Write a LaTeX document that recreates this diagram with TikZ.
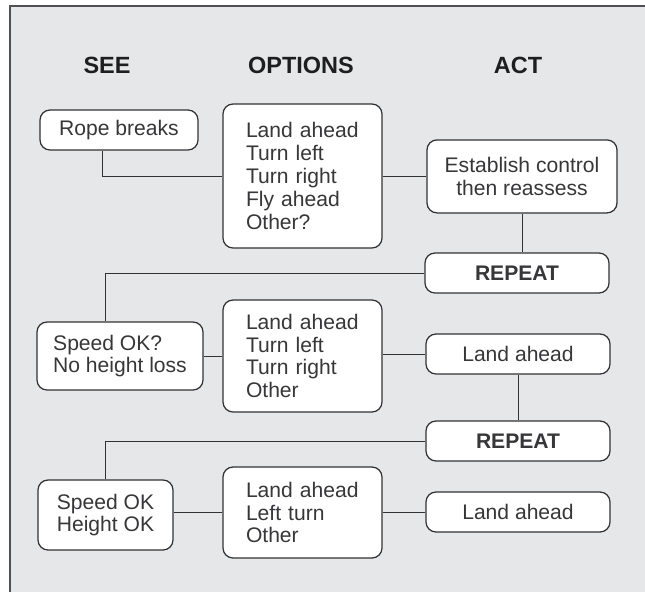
\documentclass[tikz,border=0pt]{standalone}
\usepackage{fontspec}
\setmainfont{Liberation Sans}
\usepackage{xcolor}
\usepackage{tikz}
\usetikzlibrary{positioning}
\definecolor{panelgray}{RGB}{230,231,233}
\definecolor{frameline}{RGB}{80,80,82}
\definecolor{boxline}{RGB}{50,50,52}
\definecolor{bodytext}{RGB}{55,55,57}
\definecolor{headtext}{RGB}{30,30,32}
\newcommand{\bodyfont}{\fontsize{15}{16.2}\selectfont}
\newcommand{\headfont}{\fontsize{16.7}{18}\selectfont\bfseries}

\begin{document}
\begin{tikzpicture}[
  box/.style={draw=boxline, fill=white, line width=0.9pt, rounded corners=0.25cm, font=\bodyfont, text=bodytext},
  seebox/.style={box, align=left, inner xsep=0.375cm},
  optbox/.style={box, align=left, text width=2.825cm, inner xsep=0.575cm},
  actbox/.style={box, align=center, minimum width=4.6cm, minimum height=1cm},
  head/.style={font=\headfont, text=headtext, anchor=base},
  link/.style={draw=boxline, line width=0.7pt}
]
\useasboundingbox (0,0) rectangle (16.125,-14.8);
\fill[panelgray] (0.25,-0.15) rectangle (16.125,-14.8);
\draw[frameline, line width=1.4pt] (0.25,-14.8) -- (0.25,-0.15) -- (16.125,-0.15);

% column heads
\node[head] (see) at (2.675,-1.825) {SEE};
\node[head] (options) at (7.525,-1.825) {OPTIONS};
\node[head] (act) at (12.95,-1.825) {ACT};

% first row
\node[seebox, minimum width=3.95cm, minimum height=1cm] (rope) at (2.975,-3.25) {Rope breaks};
\node[optbox, minimum height=3.6cm] (optA) at (7.5625,-4.4) {Land ahead\\Turn left\\Turn right\\Fly ahead\\Other?};
\node[actbox, minimum width=4.75cm, minimum height=1.825cm] (control) at (13.05,-4.41) {Establish control\\then reassess};
\node[actbox] (repA) at (12.925,-6.825) {\bfseries REPEAT};

% second row
\node[seebox, minimum width=4.15cm, minimum height=1.7cm] (speedA) at (3.0,-8.9) {Speed OK?\\No height loss};
\node[optbox, minimum height=2.8cm] (optB) at (7.5625,-8.9) {Land ahead\\Turn left\\Turn right\\Other};
\node[actbox] (landA) at (12.95,-8.85) {Land ahead};
\node[actbox] (repB) at (12.95,-11.025) {\bfseries REPEAT};

% third row
\node[seebox, minimum width=3.375cm, minimum height=1.75cm] (speedB) at (2.6375,-12.875) {Speed OK\\Height OK};
\node[optbox, minimum height=2.275cm] (optC) at (7.5625,-12.8125) {Land ahead\\Left turn\\Other};
\node[actbox] (landB) at (12.95,-12.8) {Land ahead};

% connectors
\draw[link] ([xshift=1.575cm]rope.south west) |- (optA.west);
\draw[link] (optA.east) -- (optA.east -| control.west);
\draw[link] (control.south) -- (control.south |- repA.north);
\draw[link] (repA.west) -| ([xshift=-0.375cm]speedA.north);
\draw[link] (speedA.east) -- (speedA.east -| optB.west);
\draw[link] (landA.west) -- (landA.west -| optB.east);
\draw[link] (landA.south) -- (repB.north);
\draw[link] (repB.west) -| (speedB.north);
\draw[link] (optC.west) -- (optC.west -| speedB.east);
\draw[link] (landB.west) -- (landB.west -| optC.east);
\end{tikzpicture}
\end{document}
